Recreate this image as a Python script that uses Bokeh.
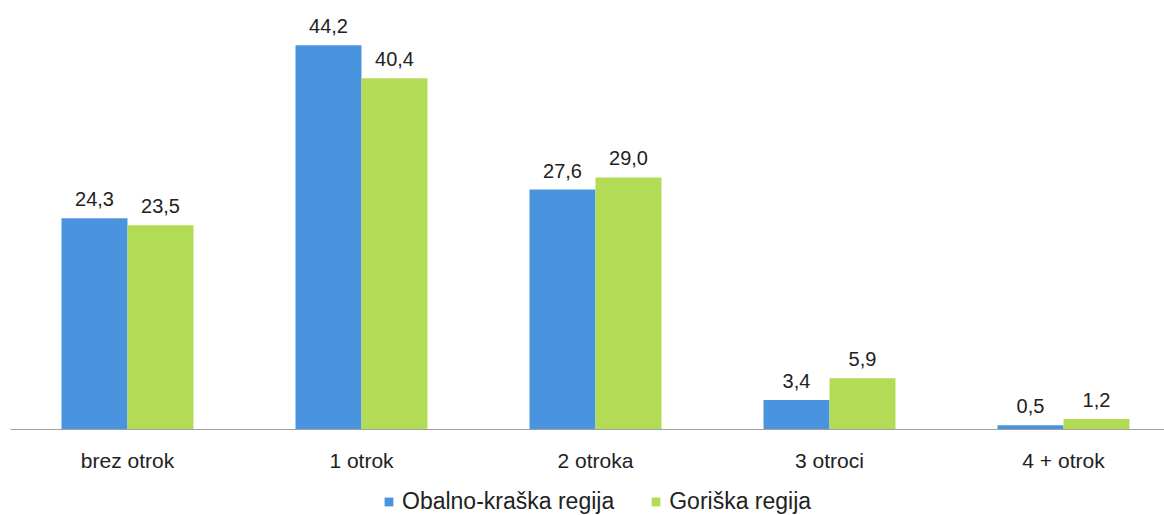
from bokeh.plotting import figure
from bokeh.layouts import column
from bokeh.models import ColumnDataSource, Range1d, FixedTicker, Legend, LegendItem, LabelSet
from bokeh.core.properties import value
from bokeh.transform import dodge
from bokeh.embed import file_html
from bokeh.resources import INLINE

categories = ["brez otrok", "1 otrok", "2 otroka", "3 otroci", "4 + otrok"]
series_names = ["Obalno-kraška regija", "Goriška regija"]
obalno = [24.3, 44.2, 27.6, 3.4, 0.5]
goriska = [23.5, 40.4, 29.0, 5.9, 1.2]
colors = ["#4A94DF", "#B3DC56"]

FONT = "Liberation Sans"

def fmt(v):
    return f"{v:.1f}".replace(".", ",")

xs = list(range(len(categories)))
src = ColumnDataSource(dict(
    x=xs,
    a=obalno, b=goriska,
    a_lab=[fmt(v) for v in obalno],
    b_lab=[fmt(v) for v in goriska],
))

bw = 0.282
off = 0.141

# main chart
p = figure(width=1164, height=474, output_backend="svg", toolbar_location=None,
           x_range=Range1d(-0.5, 4.4316), y_range=Range1d(0, 48.2),
           y_axis_location=None, min_border_left=10, min_border_right=0, min_border_top=10,
           min_border_bottom=0)
p.outline_line_color = None
p.xgrid.visible = False
p.ygrid.visible = False
p.background_fill_color = "white"
p.border_fill_color = "white"

p.vbar(x=dodge("x", -off, range=p.x_range), top="a", width=bw, source=src,
       fill_color=colors[0], line_color=None)
p.vbar(x=dodge("x", off, range=p.x_range), top="b", width=bw, source=src,
       fill_color=colors[1], line_color=None)

for col, lab, o in (("a", "a_lab", -off), ("b", "b_lab", off)):
    ls = LabelSet(x=dodge("x", o, range=p.x_range), y=col, text=lab, source=src,
                  text_align="center", text_baseline="alphabetic", y_offset=12,
                  text_font=value(FONT), text_font_size=value("20px"), text_color=value("#222222"))
    p.add_layout(ls)

ax = p.xaxis[0]
ax.ticker = FixedTicker(ticks=xs)
ax.major_label_overrides = {i: c for i, c in enumerate(categories)}
ax.minor_tick_line_color = None
ax.major_tick_line_color = None
ax.major_tick_out = 0
ax.major_tick_in = 0
ax.major_label_standoff = 19
ax.axis_line_color = "#A0A0A0"
ax.major_label_text_font = FONT
ax.major_label_text_font_size = "21px"
ax.major_label_text_color = "#222222"

# legend strip (series renderers kept outside the visible y range)
p2 = figure(width=1164, height=41, output_backend="svg", toolbar_location=None,
            x_range=Range1d(-0.5, 4.4316), y_range=Range1d(100, 101),
            x_axis_location=None, y_axis_location=None, min_border=0)
p2.outline_line_color = None
p2.grid.visible = False
p2.background_fill_color = "white"
p2.border_fill_color = "white"
l1 = p2.vbar(x="x", top="a", width=bw, source=src, fill_color=colors[0], line_color=None)
l2 = p2.vbar(x="x", top="b", width=bw, source=src, fill_color=colors[1], line_color=None)

legend = Legend(items=[LegendItem(label=series_names[0], renderers=[l1]),
                       LegendItem(label=series_names[1], renderers=[l2])],
                orientation="horizontal", location=(373, 0),
                border_line_color=None, background_fill_alpha=0,
                label_text_font=FONT, label_text_font_size="23px", label_text_color="#222222",
                label_height=20,
                glyph_width=11, glyph_height=11, label_standoff=8, spacing=36,
                padding=0, margin=0)
p2.add_layout(legend, "center")

layout = column(p, p2, spacing=0)
open("out.html", "w").write(file_html(layout, INLINE))
